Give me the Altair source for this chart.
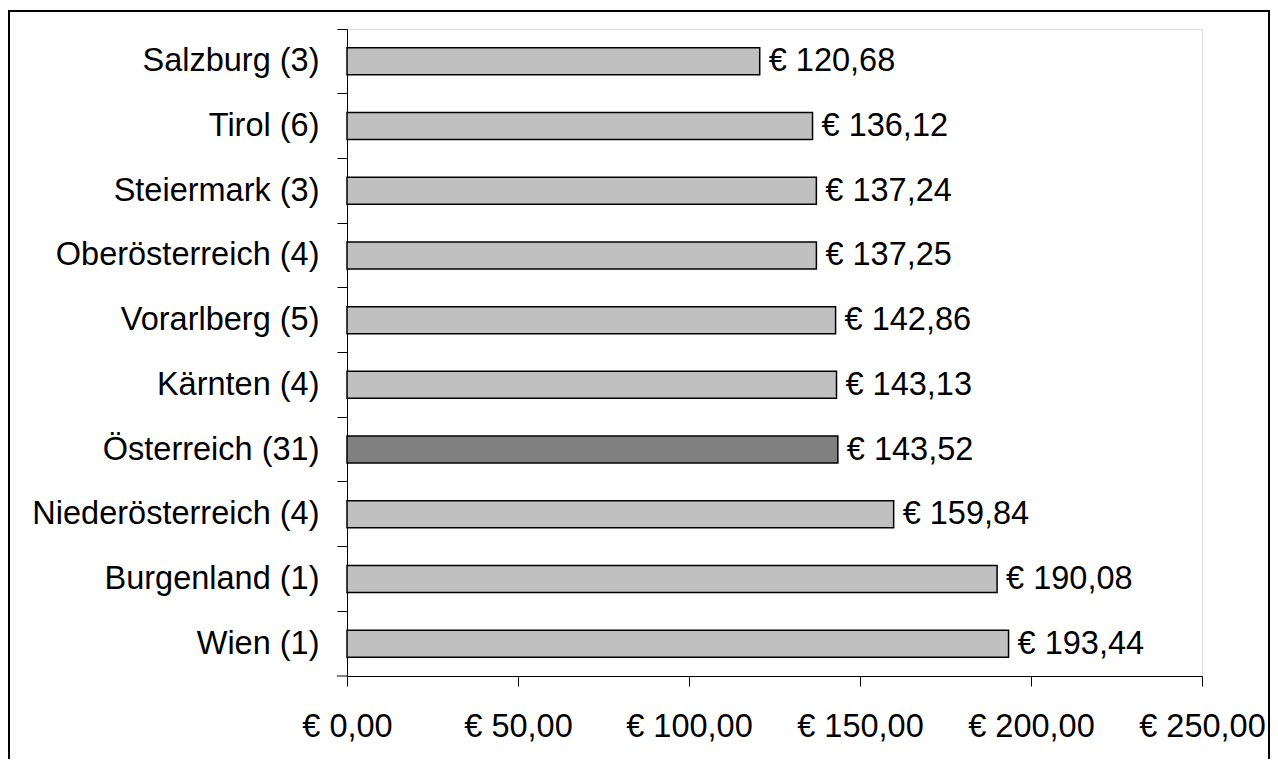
import altair as alt
import pandas as pd

categories = ["Salzburg (3)", "Tirol (6)", "Steiermark (3)", "Oberösterreich (4)",
              "Vorarlberg (5)", "Kärnten (4)", "Österreich (31)", "Niederösterreich (4)",
              "Burgenland (1)", "Wien (1)"]
values = [120.68, 136.12, 137.24, 137.25, 142.86, 143.13, 143.52, 159.84, 190.08, 193.44]
highlight = [False, False, False, False, False, False, True, False, False, False]
x_ticks = [0, 50, 100, 150, 200, 250]

df = pd.DataFrame({"cat": categories, "val": values, "hl": highlight})
df["label"] = ["€ " + f"{v:.2f}".replace(".", ",") for v in values]

FONT = "Liberation Sans"
FS = 32.5
W, H = 855, 647

y_enc = alt.Y("cat:N", sort=categories, title=None,
              scale=alt.Scale(paddingInner=0, paddingOuter=0),
              axis=alt.Axis(bandPosition=0, labelFont=FONT, labelFontSize=FS,
                            labelColor="black", labelPadding=18, tickSize=10,
                            tickColor="black", domainColor="black", domainWidth=1,
                            tickWidth=1, grid=False, labelLimit=400))
x_enc = alt.X("val:Q", title=None, scale=alt.Scale(domain=[0, 250], nice=False),
              axis=alt.Axis(values=x_ticks, labelFont=FONT, labelFontSize=FS,
                            labelColor="black", labelPadding=24, tickSize=10,
                            tickColor="black", domainColor="black", domainWidth=1,
                            tickWidth=1, grid=False, labelFlush=False, labelOverlap=False,
                            labelExpr="'€ ' + replace(format(datum.value, '.2f'), '.', ',')"))

base = alt.Chart(df)

bars = base.mark_bar(size=27, stroke="black", strokeWidth=1.5).encode(
    x=x_enc, y=y_enc,
    color=alt.Color("hl:N", scale=alt.Scale(domain=[False, True], range=["#C0C0C0", "#808080"]),
                    legend=None),
)

texts = base.mark_text(align="left", baseline="middle", dx=9, font=FONT, fontSize=FS,
                       color="black").encode(
    x="val:Q", y=alt.Y("cat:N", sort=categories), text="label:N")

one = alt.Chart(pd.DataFrame({"d": [0]}))
last_tick = one.mark_rule(color="black", strokeWidth=1).encode(
    x=alt.value(-10), x2=alt.value(0), y=alt.value(H))
frame = one.mark_rect(fill=None, stroke="black", strokeWidth=2).encode(
    x=alt.value(-338), x2=alt.value(922), y=alt.value(-18), y2=alt.value(760))

chart = alt.layer(bars, texts, last_tick, frame).properties(
    width=W, height=H,
    autosize=alt.AutoSizeParams(type="none"),
    padding={"left": 339, "top": 21, "right": 68, "bottom": 83},
).configure_view(stroke="#999999", strokeWidth=2).configure(background="white")

chart.save("out.html", embed_options={"renderer": "svg", "actions": False})
